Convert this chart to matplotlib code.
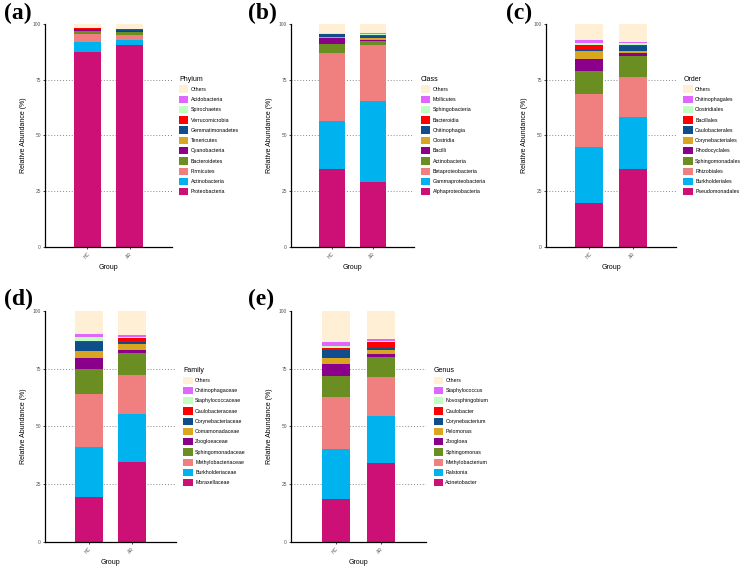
# Stacked relative abundance bars, five taxonomic levels.
import matplotlib.pyplot as plt
from matplotlib.patches import Patch

plt.rcParams['font.family'] = ['Liberation Sans', 'DejaVu Sans']

groups = ['HC', 'AR']

# Colours, bottom of the stack first (the last one is "Others").
colors = ['#CD1076', '#00B2EE', '#F08080', '#6B8E23', '#8B008B', '#DAA520',
          '#104E8B', '#FF0000', '#C1FFC1', '#E066FF', '#FFEFD5']

# (a) Phylum, bottom to top
phylum_names = ['Proteobacteria', 'Actinobacteria', 'Firmicutes', 'Bacteroidetes',
                'Cyanobacteria', 'Tenericutes', 'Gemmatimonadetes', 'Verrucomicrobia',
                'Spirochaetes', 'Acidobacteria', 'Others']
phylum_hc = [87.4, 4.3, 3.8, 1.2, 0.8, 0.2, 0.2, 0.1, 0.1, 0.1, 1.8]
phylum_ar = [90.4, 2.6, 2.0, 1.4, 0.3, 0.2, 0.2, 0.4, 0.1, 0.1, 2.3]

# (b) Class
class_names = ['Alphaproteobacteria', 'Gammaproteobacteria', 'Betaproteobacteria',
               'Actinobacteria', 'Bacilli', 'Clostridia', 'Chitinophagia', 'Bacteroidia',
               'Sphingobacteria', 'Mollicutes', 'Others']
class_hc = [35.0, 21.6, 30.4, 3.8, 2.8, 0.5, 1.2, 0.3, 0.3, 0.2, 3.9]
class_ar = [29.0, 36.6, 24.8, 1.8, 0.6, 0.9, 0.8, 0.7, 0.3, 0.3, 4.2]

# (c) Order
order_names = ['Pseudomonadales', 'Burkholderiales', 'Rhizobiales', 'Sphingomonadales',
               'Rhodocyclales', 'Corynebacteriales', 'Caulobacterales', 'Bacillales',
               'Clostridiales', 'Chitinophagales', 'Others']
order_hc = [19.9, 24.9, 23.8, 10.5, 5.3, 3.3, 0.8, 2.2, 0.8, 1.3, 7.2]
order_ar = [34.8, 23.6, 17.7, 9.7, 1.2, 1.0, 2.0, 0.4, 0.9, 0.8, 7.9]

# (d) Family
family_names = ['Moraxellaceae', 'Burkholderiaceae', 'Methylobacteriaceae',
                'Sphingomonadaceae', 'Zoogloeaceae', 'Comamonadaceae',
                'Corynebacteriaceae', 'Caulobacteraceae', 'Staphylococcaceae',
                'Chitinophagaceae', 'Others']
family_hc = [19.5, 21.8, 22.9, 10.6, 5.0, 3.0, 3.6, 0.8, 1.7, 1.0, 10.1]
family_ar = [34.6, 20.9, 16.8, 9.6, 1.1, 2.6, 0.8, 2.0, 0.3, 1.1, 10.2]

# (e) Genus
genus_names = ['Acinetobacter', 'Ralstonia', 'Methylobacterium', 'Sphingomonas',
               'Zoogloea', 'Pelomonas', 'Corynebacterium', 'Caulobacter',
               'Novosphingobium', 'Staphylococcus', 'Others']
genus_hc = [18.8, 21.3, 22.7, 9.1, 5.3, 2.6, 3.3, 0.7, 1.2, 1.7, 13.3]
genus_ar = [34.3, 20.4, 16.9, 8.6, 1.0, 1.9, 1.0, 2.3, 0.6, 0.7, 12.3]


def draw_panel(ax, title, names, hc, ar):
    bottoms = [0.0, 0.0]
    for col, v_hc, v_ar in zip(colors, hc, ar):
        ax.bar([1, 2], [v_hc, v_ar], width=0.64, bottom=bottoms, color=col,
               linewidth=0, zorder=2)
        bottoms = [bottoms[0] + v_hc, bottoms[1] + v_ar]

    for y in (25, 50, 75):
        ax.axhline(y, color='#888888', ls=(0, (1, 2)), lw=0.7, zorder=1)

    ax.set_xlim(0, 3)
    ax.set_ylim(0, 100)
    ax.set_yticks([0, 25, 50, 75, 100])
    ax.set_xticks([1, 2])
    ax.set_xticklabels(groups, rotation=45, ha='right', rotation_mode='anchor')
    ax.tick_params(labelsize=3.5, labelcolor='#555555', length=1.5, width=0.5,
                   pad=1.5)
    for s in ('top', 'right'):
        ax.spines[s].set_visible(False)
    for s in ('left', 'bottom'):
        ax.spines[s].set_linewidth(0.9)
    ax.set_ylabel('Relative Abundance (%)', fontsize=5, labelpad=4)
    ax.set_xlabel('Group', fontsize=5, labelpad=3)

    handles = [Patch(facecolor=c, label=n) for c, n in zip(colors, names)]
    leg = ax.legend(handles=handles[::-1], title=title, loc='center left',
                    bbox_to_anchor=(1.04, 0.5), frameon=False, fontsize=3.8,
                    title_fontsize=5, handlelength=1.75, handleheight=1.75,
                    labelspacing=0.56, handletextpad=0.5, borderaxespad=0)
    leg._legend_box.align = 'left'


fig = plt.figure(figsize=(7.45, 5.69), dpi=100)

ax_a = fig.add_axes([0.0604, 0.566, 0.1705, 0.392])
ax_b = fig.add_axes([0.3906, 0.566, 0.1651, 0.392])
ax_c = fig.add_axes([0.7329, 0.566, 0.1745, 0.392])
ax_d = fig.add_axes([0.0604, 0.0475, 0.1758, 0.406])
ax_e = fig.add_axes([0.3906, 0.0475, 0.1812, 0.406])

draw_panel(ax_a, 'Phylum', phylum_names, phylum_hc, phylum_ar)
draw_panel(ax_b, 'Class', class_names, class_hc, class_ar)
draw_panel(ax_c, 'Order', order_names, order_hc, order_ar)
draw_panel(ax_d, 'Family', family_names, family_hc, family_ar)
draw_panel(ax_e, 'Genus', genus_names, genus_hc, genus_ar)

# Panel letters
letter_kw = dict(fontsize=17, fontweight='bold', va='top', ha='left',
                 family=['Liberation Serif', 'DejaVu Serif'])
fig.text(4 / 745, 1 - 3 / 569, '(a)', **letter_kw)
fig.text(248 / 745, 1 - 3 / 569, '(b)', **letter_kw)
fig.text(506 / 745, 1 - 3 / 569, '(c)', **letter_kw)
fig.text(4 / 745, 1 - 289 / 569, '(d)', **letter_kw)
fig.text(248 / 745, 1 - 289 / 569, '(e)', **letter_kw)

fig.savefig('out.png', dpi=100)
